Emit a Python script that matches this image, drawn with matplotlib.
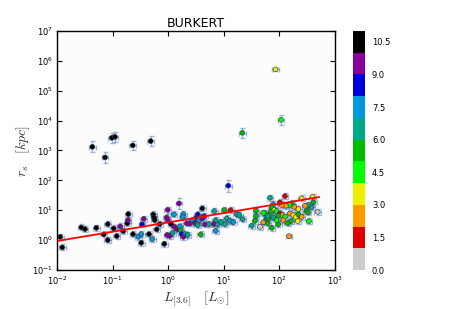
import numpy as np
import matplotlib
matplotlib.use('Agg')
import matplotlib.pyplot as plt

plt.rcParams['mathtext.fontset'] = 'cm'

# ---- data (log10 L[3.6] in Lsun, log10 r_s in kpc, colour value, y-error in dex) ----
log_L = [
    -1.365, -1.137, -1.016, -0.957, -0.638, -0.315, 1.333, 1.930, 2.029, 1.081, 0.194, 2.173,
    -1.941, -1.905, -1.563, -1.496, -1.293, -1.088, -1.160, -1.088, -0.980, -0.926, -0.862, -0.808,
    -0.736, -0.723, -0.718, -0.633, -0.538, -0.484, -0.484, -0.471, -0.441, -0.345, -0.286, -0.268,
    -0.255, -0.243, -0.207, -0.153, -0.070, -0.009, -0.027, -0.009, 0.050, 0.104, 0.110, 0.164,
    0.032, -0.020, 0.081, 0.212, 0.225, 0.243, 0.302, 0.351, 0.272, 0.333, 0.392, 0.440,
    0.482, 0.531, 0.531, 0.272, 0.261, 0.613, 0.513, 0.590, 0.649, 0.554, 0.613, 0.829,
    0.854, 1.009, 1.124, 1.052, 1.112, 1.171, 1.232, 1.279, 1.340, 0.531, 0.662, 0.734,
    0.824, 0.890, 1.022, 0.950, 0.854, 0.585, 1.502, 1.561, 1.579, 1.579, 1.651, 1.711,
    1.741, 1.772, 1.790, 1.831, 2.101, 2.401, 2.599, 2.610, 2.520, 2.460, 2.581, 2.689,
    2.340, 2.491, 2.268, 2.221, 2.178, 2.119, 2.041, 2.011, 1.890, 1.862, 1.903, 1.849,
    1.951, 2.011, 2.052, 1.980, 2.101, 2.191, 2.250, 2.293, 2.340, 2.401, 2.509, 2.532,
    2.329, 2.209, 2.149, 2.070, 1.951, 1.890, 1.800, 1.862, 1.980, 1.790, 1.711,
]
log_rs = [
    3.123, 2.768, 3.424, 3.458, 3.170, 3.314, 3.592, 5.717, 4.027, 1.824, 1.228, 0.134,
    0.110, -0.244, 0.425, 0.368, 0.412, 0.536, 0.190, 0.000, 0.390, 0.134, 0.459, 0.301,
    0.559, 0.669, 0.870, 0.200, 0.110, 0.200, -0.090, 0.525, 0.713, 0.200, 0.033, 0.860,
    0.760, 0.669, 0.358, 0.536, -0.124, 1.014, 0.760, 0.669, 0.536, 0.860, 0.445, 0.358,
    0.144, 0.170, 0.244, 0.459, 0.335, 0.200, 0.200, 0.177, 0.110, 0.559, 0.559, 0.669,
    0.579, 0.860, 0.559, 0.870, 0.770, 1.061, 0.760, 0.760, 0.803, 0.669, 0.726, 0.971,
    0.669, 1.004, 1.004, 0.726, 0.646, 0.603, 0.860, 0.837, 0.693, 0.500, 0.525, 0.536,
    0.536, 0.525, 0.536, 0.613, 0.311, 0.190, 0.479, 0.646, 0.981, 0.803, 0.445, 0.592,
    0.894, 0.726, 0.559, 1.416, 1.473, 1.396, 1.449, 1.262, 1.172, 1.148, 1.095, 0.947,
    1.038, 0.981, 1.115, 1.228, 1.172, 1.148, 1.172, 1.262, 1.195, 1.081, 1.004, 0.947,
    0.971, 0.894, 0.837, 0.813, 0.780, 0.894, 0.837, 0.770, 0.860, 0.780, 0.927, 0.636,
    0.636, 0.636, 0.559, 0.669, 0.669, 0.760, 0.726, 0.412, 0.525, 0.813, 0.914,
]
colour_value = [
    10.5, 10.5, 10.5, 10.5, 10.5, 10.5, 5.5, 3.5, 4.5, 8.5, 9.5, 2.5,
    10.5, 10.5, 10.5, 10.5, 10.5, 10.5, 10.5, 10.5, 10.5, 10.5, 9.5, 10.5,
    10.5, 9.5, 10.5, 10.5, 7.5, 7.5, 10.5, 8.5, 9.5, 10.5, 7.5, 10.5,
    10.5, 10.5, 10.5, 10.5, 10.5, 9.5, 9.5, 9.5, 10.5, 7.5, 9.5, 9.5,
    9.5, 9.5, 6.5, 7.5, 5.5, 8.5, 7.5, 6.5, 9.5, 9.5, 9.5, 7.5,
    9.5, 8.5, 5.5, 7.5, 7.5, 10.5, 8.5, 7.5, 9.5, 7.5, 9.5, 6.5,
    6.5, 5.5, 1.5, 6.5, 7.5, 7.5, 6.5, 6.5, 6.5, 6.5, 9.5, 6.5,
    9.5, 6.5, 6.5, 6.5, 7.5, 5.5, 6.5, 5.5, 5.5, 5.5, 0.5, 2.5,
    5.5, 6.5, 5.5, 6.5, 1.5, 3.5, 3.5, 5.5, 6.5, 2.5, 6.5, 0.5,
    3.5, 5.5, 2.5, 5.5, 4.5, 2.5, 2.5, 1.5, 6.5, 5.5, 3.5, 5.5,
    4.5, 1.5, 2.5, 5.5, 4.5, 2.5, 3.5, 3.5, 5.5, 2.5, 5.5, 4.5,
    3.5, 5.5, 5.5, 2.5, 4.5, 6.5, 5.5, 5.5, 5.5, 6.5, 4.5,
]
# y errors (dex): larger for the outliers, ~0.1 dex for the main cloud
rs_err_dex_outliers = [0.18, 0.18, 0.16, 0.16, 0.16, 0.16, 0.17, 0.05, 0.17, 0.20, 0.18, 0.06]
rs_err_dex_cloud = 0.10
L_err_dex = 0.06

fit_intercept = 0.594
fit_slope = 0.312
fit_range = (0.0105, 515.0)

cbar_ticks = [0.0, 1.5, 3.0, 4.5, 6.0, 7.5, 9.0, 10.5]

# ---- plotting ----
L = 10 ** np.array(log_L)
rs = 10 ** np.array(log_rs)
n = len(L)
ed = np.array(rs_err_dex_outliers + [rs_err_dex_cloud] * (n - len(rs_err_dex_outliers)))
yerr = [rs - rs * 10 ** (-ed), rs * 10 ** ed - rs]
xerr = [L - L * 10 ** (-L_err_dex), L * 10 ** L_err_dex - L]

fig = plt.figure(figsize=(4.5, 3.09), dpi=100)
ax = fig.add_axes([0.1267, 0.1262, 0.6177, 0.7735])
cax = fig.add_axes([0.7844, 0.1262, 0.0267, 0.7735])
ax.set_facecolor('#fcfcfc')

cmap = plt.get_cmap('nipy_spectral_r', 11)
ax.errorbar(L, rs, xerr=xerr, yerr=yerr, fmt='none', ecolor='#4a78c0', alpha=0.5,
            elinewidth=1.0, capsize=1.8, capthick=1.0, zorder=1)
sc = ax.scatter(L, rs, c=colour_value, cmap=cmap, vmin=0, vmax=11, s=12,
                edgecolors='#333333', linewidths=0.4, zorder=3)

xx = np.logspace(np.log10(fit_range[0]), np.log10(fit_range[1]), 50)
ax.plot(xx, 10 ** (fit_intercept + fit_slope * np.log10(xx)), color='red', lw=1.3, zorder=4)

ax.set_xscale('log')
ax.set_yscale('log')
ax.set_xlim(1e-2, 1e3)
ax.set_ylim(1e-1, 1e7)
ax.minorticks_off()
ax.tick_params(which='both', direction='in', top=True, right=True, length=3.5,
               width=0.8, labelsize=6, pad=3)
for s in ax.spines.values():
    s.set_linewidth(1.0)

ax.set_title('BURKERT', fontsize=9, pad=3)
ax.set_xlabel(r'$L_{[3.6]}\quad[L_{\odot}]$', fontsize=10, color='#333333', labelpad=2)
ax.set_ylabel(r'$r_s\quad[kpc]$', fontsize=10, color='#333333', labelpad=0)

cb = fig.colorbar(sc, cax=cax, ticks=cbar_ticks)
cb.outline.set_visible(False)
cb.set_ticklabels(['%.1f' % t for t in cbar_ticks])
cax.tick_params(length=0, labelsize=6, pad=5)

fig.savefig('out.png', dpi=100)
